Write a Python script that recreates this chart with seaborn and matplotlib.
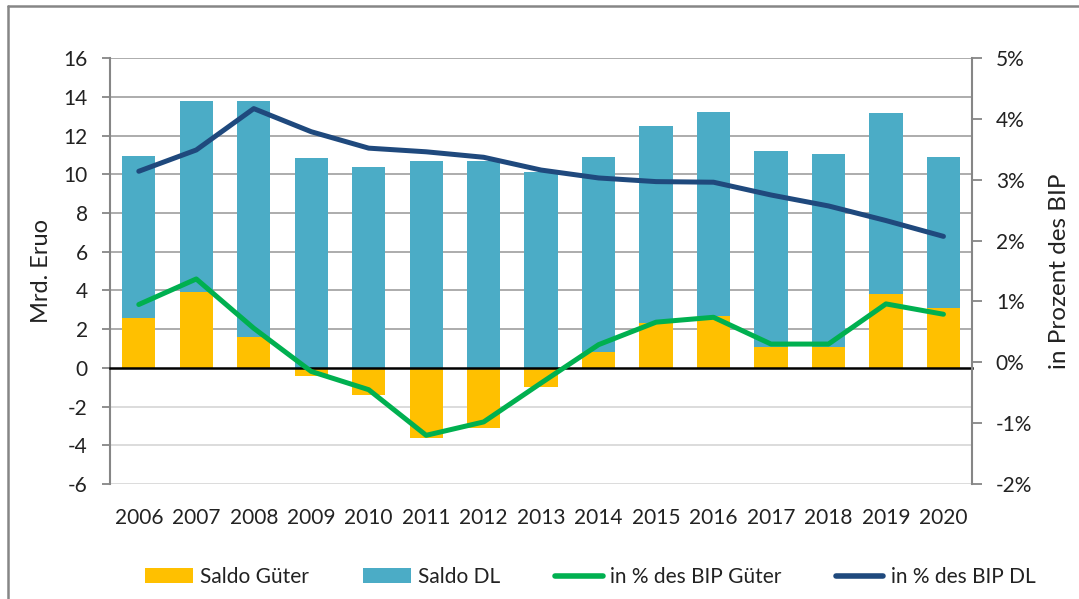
import matplotlib
matplotlib.use("Agg")
import matplotlib.pyplot as plt
import numpy as np
import pandas as pd
import seaborn as sns
from matplotlib.lines import Line2D
from matplotlib.patches import Patch
from matplotlib.ticker import FuncFormatter

# Daten
years = ["2006", "2007", "2008", "2009", "2010", "2011", "2012", "2013",
         "2014", "2015", "2016", "2017", "2018", "2019", "2020"]
saldo_gueter = [2.6, 3.9, 1.6, -0.4, -1.4, -3.6, -3.1, -1.0,
                0.8, 2.3, 2.7, 1.1, 1.1, 3.8, 3.1]
saldo_dl = [8.35, 9.86, 12.16, 10.84, 10.37, 10.66, 10.66, 10.14,
            10.09, 10.2, 10.54, 10.11, 9.94, 9.36, 7.79]
bip_gueter = [0.95, 1.37, 0.56, -0.15, -0.45, -1.20, -0.98, -0.34,
              0.29, 0.66, 0.74, 0.30, 0.30, 0.96, 0.79]
bip_dl = [3.14, 3.49, 4.17, 3.79, 3.52, 3.46, 3.37, 3.16,
          3.03, 2.97, 2.96, 2.75, 2.57, 2.33, 2.07]

# Farben
GOLD = "#FFC000"
TEAL = "#4BACC6"
GREEN = "#00B050"
NAVY = "#1F497D"
GRID = "#A6A6A6"
GRID_NEG = "#D9D9D9"
SPINE = "#868686"
TEXT = "#222222"
FS = 15

sns.set_style("white")
plt.rcParams["font.family"] = ["Lato", "DejaVu Sans"]
plt.rcParams["axes.unicode_minus"] = False

df = pd.DataFrame({
    "Jahr": years,
    "Gueter": saldo_gueter,
    "DL": saldo_dl,
    "BIP_Gueter": bip_gueter,
    "BIP_DL": bip_dl,
})
df["pos"] = np.arange(len(df))
# wie in Excel gestapelt: DL sitzt auf dem positiven Teil der Güter
df["Stapel"] = df["Gueter"].clip(lower=0) + df["DL"]

fig = plt.figure(figsize=(10.79, 5.99), dpi=100)
ax = fig.add_axes([0.102, 0.192, 0.799, 0.711])

left_ticks = list(range(-6, 17, 2))
for v in left_ticks:
    if v != 0:
        ax.axhline(v, color=GRID if v > 0 else GRID_NEG, lw=1.3, zorder=0)

sns.barplot(data=df, x="Jahr", y="Stapel", color=TEAL, saturation=1,
            width=0.58, linewidth=0, errorbar=None, ax=ax, zorder=2)
sns.barplot(data=df, x="Jahr", y="Gueter", color=GOLD, saturation=1,
            width=0.58, linewidth=0, errorbar=None, ax=ax, zorder=2)

ax.set_ylim(-6, 16)
ax.set_yticks(left_ticks)
ax.set_xlabel("")
ax.set_ylabel("Mrd. Eruo", fontsize=17, color=TEXT, labelpad=8)

for side in ["top", "right"]:
    ax.spines[side].set_visible(False)
ax.spines["left"].set_color(SPINE)
ax.spines["left"].set_linewidth(1.5)
ax.spines["bottom"].set_position(("data", 0))
ax.spines["bottom"].set_color("black")
ax.spines["bottom"].set_linewidth(1.8)

ax.set_xticks(np.arange(len(years) + 1) - 0.5)
ax.tick_params(axis="x", length=5, width=1.3, color=SPINE, labelbottom=False)
ax.tick_params(axis="y", length=6, width=1.3, color=SPINE,
               labelsize=FS, labelcolor=TEXT, pad=10)

# Jahreszahlen unterhalb der Grafik
sec = ax.secondary_xaxis("bottom")
sec.set_xticks(df["pos"], labels=df["Jahr"])
sec.tick_params(length=0, pad=17, labelsize=FS, labelcolor=TEXT)
sec.spines["bottom"].set_visible(False)

# rechte Achse: Anteil am BIP
ax2 = ax.twinx()
sns.lineplot(data=df, x="pos", y="BIP_Gueter", color=GREEN, lw=3.6,
             solid_capstyle="round", ax=ax2)
sns.lineplot(data=df, x="pos", y="BIP_DL", color=NAVY, lw=3.6,
             solid_capstyle="round", ax=ax2)
ax2.set_ylim(-2, 5)
ax2.set_yticks(range(-2, 6))
ax2.yaxis.set_major_formatter(FuncFormatter(lambda v, _: f"{v:.0f}%"))
ax2.set_ylabel("in Prozent des BIP", fontsize=17.5, color=TEXT, labelpad=12)
for side in ["left", "top", "bottom"]:
    ax2.spines[side].set_visible(False)
ax2.spines["right"].set_color(SPINE)
ax2.spines["right"].set_linewidth(1.5)
ax2.tick_params(axis="y", length=7, width=1.3, color=SPINE,
                labelsize=FS, labelcolor=TEXT, pad=10)

ax.set_xlim(-0.5, len(years) - 0.5)

handles = [
    Patch(facecolor=GOLD, edgecolor="none"),
    Patch(facecolor=TEAL, edgecolor="none"),
    Line2D([], [], color=GREEN, lw=4, solid_capstyle="round"),
    Line2D([], [], color=NAVY, lw=4, solid_capstyle="round"),
]
labels = ["Saldo Güter", "Saldo DL", "in % des BIP Güter", "in % des BIP DL"]
fig.legend(handles, labels, loc="center", bbox_to_anchor=(0.547, 0.037),
           ncol=4, frameon=False, fontsize=FS, handlelength=2.3,
           handletextpad=0.35, columnspacing=2.6, labelcolor=TEXT)

# Rahmen oben und links wie im Original-Ausschnitt
fig.add_artist(Line2D([8 / 1079, 1], [1 - 6 / 599] * 2,
                      transform=fig.transFigure, color=SPINE, lw=1.8))
fig.add_artist(Line2D([8 / 1079] * 2, [0, 1 - 6 / 599],
                      transform=fig.transFigure, color=SPINE, lw=1.8))

fig.savefig("out.png", dpi=100)
